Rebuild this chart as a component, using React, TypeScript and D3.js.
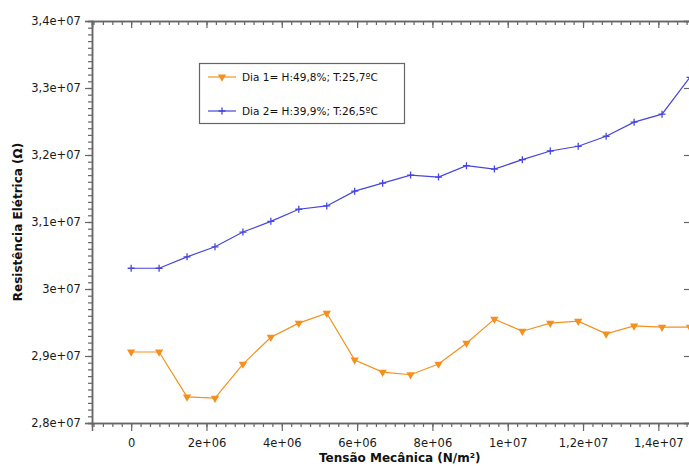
import { useEffect, useRef } from 'react'
import * as d3 from 'd3'

// Tensão mecânica (N/m²)
const stress = [
  0, 742000, 1484000, 2226000, 2968000, 3710000, 4452000, 5194000, 5936000, 6678000,
  7420000, 8162000, 8904000, 9646000, 10388000, 11130000, 11872000, 12614000, 13356000,
  14098000, 14840000,
]

// Resistência elétrica (Ω)
const dia1 = [
  2.906e7, 2.906e7, 2.839e7, 2.837e7, 2.888e7, 2.928e7, 2.949e7, 2.964e7, 2.894e7, 2.876e7,
  2.872e7, 2.888e7, 2.919e7, 2.955e7, 2.937e7, 2.949e7, 2.952e7, 2.933e7, 2.945e7, 2.943e7,
  2.943e7,
]
const dia2 = [
  3.031e7, 3.031e7, 3.048e7, 3.063e7, 3.085e7, 3.101e7, 3.119e7, 3.124e7, 3.146e7, 3.158e7,
  3.170e7, 3.167e7, 3.184e7, 3.179e7, 3.193e7, 3.206e7, 3.213e7, 3.228e7, 3.249e7, 3.261e7,
  3.316e7,
]

const seriesLabels = ['Dia 1= H:49,8%; T:25,7ºC', 'Dia 2= H:39,9%; T:26,5ºC']

const xTicks = [0, 2e6, 4e6, 6e6, 8e6, 1e7, 1.2e7, 1.4e7]
const xTickLabels = ['0', '2e+06', '4e+06', '6e+06', '8e+06', '1e+07', '1,2e+07', '1,4e+07']
const yTicks = [2.8e7, 2.9e7, 3e7, 3.1e7, 3.2e7, 3.3e7, 3.4e7]
const yTickLabels = ['2,8e+07', '2,9e+07', '3e+07', '3,1e+07', '3,2e+07', '3,3e+07', '3,4e+07']

const ORANGE = '#f5901e'
const BLUE = '#4646dc'
const AXIS = '#666'

export default function App() {
  const svgRef = useRef<SVGSVGElement>(null)

  useEffect(() => {
    if (!svgRef.current) return
    const svg = d3.select(svgRef.current)
    svg.selectAll('*').remove()

    const left = 92, top = 21, bottom = 423, right = 696
    const font = '"DejaVu Sans", Verdana, sans-serif'

    const x = d3.scaleLinear().domain([-1.04e6, 1.5e7]).range([left, right])
    const y = d3.scaleLinear().domain([2.8e7, 3.4e7]).range([bottom, top])

    const xMinor = d3.range(-1e6, 1.5e7 + 1, 2.5e5)
    const yMinor = d3.range(2.8e7, 3.4e7 + 1, 1e5)

    // bottom axis (outward ticks)
    const gb = svg.append('g').attr('transform', `translate(0,${bottom})`)
    gb.call(d3.axisBottom(x).tickValues(xMinor).tickSize(4).tickFormat(() => ''))
    gb.append('g').call(d3.axisBottom(x).tickValues(xTicks).tickSize(8)
      .tickFormat((d, i) => xTickLabels[i]))

    // top axis (inward ticks)
    const gt = svg.append('g').attr('transform', `translate(0,${top})`)
    gt.call(d3.axisBottom(x).tickValues(xMinor).tickSize(4).tickFormat(() => ''))
    gt.append('g').call(d3.axisBottom(x).tickValues(xTicks).tickSize(7).tickFormat(() => ''))

    // left axis (outward ticks)
    const gl = svg.append('g').attr('transform', `translate(${left},0)`)
    gl.call(d3.axisLeft(y).tickValues(yMinor).tickSize(4).tickFormat(() => ''))
    gl.append('g').call(d3.axisLeft(y).tickValues(yTicks).tickSize(7)
      .tickFormat((d, i) => yTickLabels[i]))

    // right axis (inward ticks, line just off-canvas)
    const gr = svg.append('g').attr('transform', `translate(${690},0)`)
    gr.append('g').call(d3.axisLeft(y).tickValues(yTicks).tickSize(6).tickFormat(() => ''))

    svg.selectAll('.domain').attr('stroke', AXIS).attr('stroke-width', 1.5)
    svg.selectAll('.tick line').attr('stroke', AXIS).attr('stroke-width', 1.2)
    svg.selectAll('.tick text')
      .attr('font-family', font).attr('font-size', 11.5).attr('fill', '#1a1a1a')
    gb.selectAll('.tick text').attr('dy', '1.1em')
    gl.selectAll('.tick text').attr('dx', '-0.1em')

    // axis titles
    svg.append('text')
      .attr('x', (x(0) + x(1.4e7)) / 2 + 5).attr('y', 462)
      .attr('text-anchor', 'middle').attr('font-family', font)
      .attr('font-size', 12).attr('font-weight', 'bold').attr('fill', '#111')
      .text('Tensão Mecânica (N/m²)')
    svg.append('text')
      .attr('transform', `translate(22,${(top + bottom) / 2}) rotate(-90)`)
      .attr('text-anchor', 'middle').attr('font-family', font)
      .attr('font-size', 12).attr('font-weight', 'bold').attr('fill', '#111')
      .text('Resistência Elétrica (Ω)')

    const line = d3.line<number>().x((d, i) => x(stress[i])).y(d => y(d))
    const tri = d3.symbol().type(d3.symbolTriangle).size(30)

    const drawPlus = (g: any, cx: number, cy: number) => {
      g.append('path')
        .attr('d', `M${cx - 3.5},${cy}H${cx + 3.5}M${cx},${cy - 3.5}V${cy + 3.5}`)
        .attr('stroke', BLUE).attr('stroke-width', 1.3).attr('fill', 'none')
    }
    const drawTri = (g: any, cx: number, cy: number) => {
      g.append('path').attr('d', tri())
        .attr('transform', `translate(${cx},${cy}) rotate(180)`)
        .attr('fill', ORANGE)
    }

    const plot = svg.append('g')
    plot.append('path').datum(dia1).attr('d', line)
      .attr('fill', 'none').attr('stroke', ORANGE).attr('stroke-width', 1.2)
    dia1.forEach((v, i) => drawTri(plot, x(stress[i]), y(v)))

    plot.append('path').datum(dia2).attr('d', line)
      .attr('fill', 'none').attr('stroke', BLUE).attr('stroke-width', 1.2)
    dia2.forEach((v, i) => drawPlus(plot, x(stress[i]), y(v)))

    // legend
    const lg = svg.append('g')
    lg.append('rect').attr('x', 199.5).attr('y', 63.5).attr('width', 205).attr('height', 60)
      .attr('fill', '#fff').attr('stroke', '#666').attr('stroke-width', 1.2)
    const rows = [
      { color: ORANGE, y: 77, label: seriesLabels[0], mark: drawTri },
      { color: BLUE, y: 111, label: seriesLabels[1], mark: drawPlus },
    ]
    rows.forEach(r => {
      lg.append('line').attr('x1', 208).attr('x2', 236).attr('y1', r.y).attr('y2', r.y)
        .attr('stroke', r.color).attr('stroke-width', 1.2)
      r.mark(lg, 222, r.y)
      lg.append('text').attr('x', 242).attr('y', r.y).attr('dy', '0.35em')
        .attr('font-family', font).attr('font-size', 10.5).attr('fill', '#111')
        .text(r.label)
    })
  }, [])

  return (
    <svg
      ref={svgRef}
      width={689}
      height={466}
      style={{ position: 'absolute', left: 0, top: 0, background: '#fff' }}
    />
  )
}
